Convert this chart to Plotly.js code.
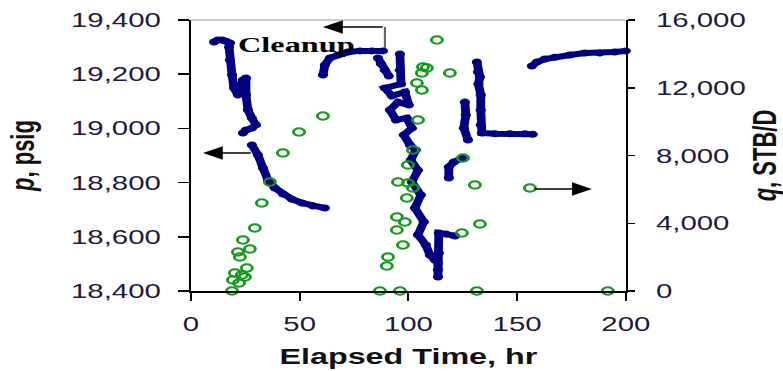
<!DOCTYPE html>
<html>
<head>
<meta charset="utf-8">
<script src="https://cdn.plot.ly/plotly-3.0.1.min.js"></script>
<style>
  html, body { margin:0; padding:0; background:#fff; overflow:hidden; }
  #chart { width:533px; height:371px; transform: scaleX(1.46904); transform-origin: 0 0; }
</style>
</head>
<body>
<div id="chart"></div>
<script>
// ---- Pressure (psig) segments ----
const pTime1 = [10.6,12.4,14.3,16.1,17.9,17.5,17.9,18.9,19.8,21.6,23.9,25.3,25.3,26.2,28.0,29.9,28.0,25.3,23.9];
const pPsig1 = [19319,19326,19326,19322,19315,19300,19252,19197,19149,19123,19179,19186,19123,19068,19038,19013,19001,18994,18983];
const pTime2 = [28.0,30.8,33.1,35.4,38.6,42.3,46.4,51.0,56.1,61.6];
const pPsig2 = [18939,18902,18854,18810,18780,18758,18739,18725,18714,18706];
const pTime3 = [60.7,61.6,63.9,67.6,72.2,77.7,83.2,88.3];
const pPsig3 = [19197,19234,19260,19271,19282,19286,19286,19286];
const pTime4 = [86.0,87.4,89.2,91.0];
const pPsig4 = [19260,19238,19215,19193];
const pTime5 = [96.1,96.1,96.6,89.2,92.4,98.4,100.2,95.2,91.5,94.3,99.3,101.6,97.9,100.7,103.4,101.1,104.4,101.6,105.7,103.0,107.1,104.4,108.0,109.9,112.2,113.6,113.6,113.6,114.0,114.0,117.2,121.4];
const pPsig5 = [19275,19215,19164,19149,19120,19134,19086,19097,19068,19031,19038,19001,18976,18939,18920,18883,18846,18802,18754,18706,18655,18607,18570,18533,18514,18503,18478,18452,18540,18614,18610,18603];
const pTime6 = [118.6,118.6,120.9,124.6];
const pPsig6 = [18817,18858,18876,18891];
const pTime7 = [126.0,126.4,125.5,127.4];
const pPsig7 = [19097,19049,19001,18957];
const pTime8 = [131.5,132.0,132.9,132.2,133.3,133.3,133.3,133.8,139.8,146.7,153.6,157.2];
const pPsig8 = [19245,19208,19190,19164,19123,19068,19013,18983,18980,18980,18980,18978];
const pTime9 = [156.8,159.1,162.8,167.4,174.3,181.1,188.0,194.9,200.0];
const pPsig9 = [19230,19245,19256,19263,19271,19278,19278,19282,19286];

// ---- Rate (STB/D) points ----
const qTime = [18.9,19.3,20.2,23.4,24.8,25.7,22.5,21.6,27.1,23.9,29.4,32.6,36.3,42.3,49.7,60.7,22.1,
  86.9,96.1,90.1,90.6,97.5,94.7,98.4,94.7,99.3,102.1,99.8,95.2,99.8,102.1,104.4,106.2,103.9,106.2,106.7,108.5,113.1,119.1,125.1,130.6,124.6,132.9,131.5,155.9,191.7];
const qRate = [0,650,1063,945,827,1358,2007,2303,2480,3011,3720,5196,6435,8148,9387,10332,472,
  0,0,1476,2007,2716,3601,4074,4369,5491,6081,6376,6435,7439,8325,10096,11867,12280,12871,13225,13166,14819,12871,7852,6258,3424,3956,0,6081,0];

// ---- Axis ticks ----
const xTicks = [0,50,100,150,200];
const pTicks = [18400,18600,18800,19000,19200,19400];
const qTicks = [0,4000,8000,12000,16000];

const segT = [pTime1,pTime2,pTime3,pTime4,pTime5,pTime6,pTime7,pTime8,pTime9];
const segP = [pPsig1,pPsig2,pPsig3,pPsig4,pPsig5,pPsig6,pPsig7,pPsig8,pPsig9];
let px = [], py = [];
segT.forEach((s,i) => { px = px.concat(s, [null]); py = py.concat(segP[i], [null]); });

const navy = '#000080';
const traces = [
  { x: px, y: py, type:'scatter', mode:'lines+markers', connectgaps:false,
    line:{color:navy, width:6}, marker:{color:navy, size:7}, cliponaxis:false, name:'p' },
  { x: qTime, y: qRate, yaxis:'y2', type:'scatter', mode:'markers', cliponaxis:false,
    marker:{symbol:'circle-open', size:7.5, color:'#149a1a', line:{width:2, color:'#149a1a'}}, name:'q' }
];

const tickFont = {family:'Liberation Sans, Arial, sans-serif', size:20, color:'#1f1a3d'};
const titleFont = {family:'Liberation Sans, Arial, sans-serif', size:22, color:'#111'};

const layout = {
  width:533, height:371,
  margin:{l:130, r:107, t:20, b:80},
  paper_bgcolor:'#fff', plot_bgcolor:'#fff',
  showlegend:false,
  font: tickFont,
  xaxis:{ range:[0,200], tickvals:xTicks, showgrid:false, zeroline:false,
    showline:true, linecolor:'#000', linewidth:1.5,
    ticks:'outside', ticklen:8, tickwidth:1.5, tickcolor:'#000',
    ticklabelstandoff:7, tickfont:tickFont,
    title:{text:'<b>Elapsed Time, hr</b>', font:titleFont, standoff:14} },
  yaxis:{ range:[18400,19400], tickvals:pTicks, tickformat:',', showgrid:false, zeroline:false,
    showline:true, linecolor:'#000', linewidth:1.5,
    ticks:'outside', ticklen:7, tickwidth:1.5, tickcolor:'#000',
    ticklabelstandoff:8, tickfont:tickFont,
    title:{text:'<b><i>p</i>, psig</b>', font:titleFont, standoff:18} },
  yaxis2:{ range:[0,16000], tickvals:qTicks, tickformat:',', overlaying:'y', side:'right',
    showgrid:false, zeroline:false,
    showline:true, linecolor:'#000', linewidth:1.5,
    ticks:'outside', ticklen:5, tickwidth:1.5, tickcolor:'#000',
    ticklabelstandoff:10, tickfont:tickFont,
    title:{text:'<b><i>q</i>, STB/D</b>', font:titleFont, standoff:8} },
  shapes:[
    {type:'line', xref:'paper', yref:'paper', x0:0, x1:1, y0:1, y1:1, line:{color:'#999', width:1}},
    {type:'line', xref:'x', yref:'y', x0:89.2, x1:89.2, y0:19297, y1:19374, line:{color:'#666', width:1.5}}
  ],
  annotations:[
    {x:48.5, y:19311, xref:'x', yref:'y', text:'<b>Cleanup</b>', showarrow:false,
     font:{family:'Liberation Serif, Times New Roman, serif', size:22, color:'#000'}},
    {x:60.7, y:19374, ax:89.2, ay:19374, xref:'x', yref:'y', axref:'x', ayref:'y', text:'',
     showarrow:true, arrowhead:2, arrowsize:1.8, arrowwidth:1.5, arrowcolor:'#000'},
    {x:5.5, y:18909, ax:28.5, ay:18909, xref:'x', yref:'y', axref:'x', ayref:'y', text:'',
     showarrow:true, arrowhead:2, arrowsize:1.8, arrowwidth:1.5, arrowcolor:'#000'},
    {x:184.4, y:6022, ax:157.2, ay:6022, xref:'x', yref:'y2', axref:'x', ayref:'y2', text:'',
     showarrow:true, arrowhead:2, arrowsize:1.8, arrowwidth:1.5, arrowcolor:'#000'}
  ]
};

Plotly.newPlot('chart', traces, layout, {displayModeBar:false, staticPlot:true});
</script>
</body>
</html>
